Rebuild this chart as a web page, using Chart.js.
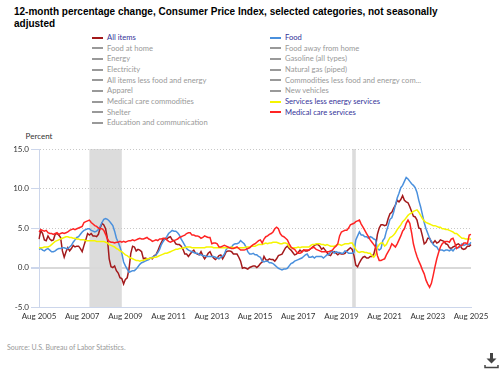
<!DOCTYPE html>
<html>
<head>
<meta charset="utf-8">
<script src="https://cdn.jsdelivr.net/npm/chart.js@4.4.1/dist/chart.umd.min.js"></script>
<style>
  html, body { margin: 0; padding: 0; background: #fff; }
  #wrap { position: relative; width: 500px; height: 371px; overflow: hidden; }
  #title {
    position: absolute; left: 14px; top: 6px; width: 440px;
    font: bold 10px "Liberation Sans", Arial, sans-serif; line-height: 11.7px; color: #000;
  }
  .lg { position: absolute; height: 11px; line-height: 11px; font: 7.6px Lato, sans-serif; white-space: nowrap; }
  .lg i { position: absolute; left: 0; top: 4.5px; width: 11px; height: 2px; }
  .lg span { position: absolute; left: 15px; }
  #percent { position: absolute; left: 19px; width: 40px; top: 131px; text-align: center; font: 8px Lato, sans-serif; color: #333; }
  #source { position: absolute; left: 7px; top: 342.5px; font: 7px Lato, sans-serif; color: #999; }
  #cv { position: absolute; left: 0; top: 140px; }
  #dl { position: absolute; left: 484px; top: 350px; }
</style>
</head>
<body>
<div id="wrap">
  <div id="title">12-month percentage change, Consumer Price Index, selected categories, not seasonally adjusted</div>
  <div id="legend"></div>
  <div id="percent">Percent</div>
  <canvas id="cv" width="500" height="186"></canvas>
  <div id="source">Source: U.S. Bureau of Labor Statistics.</div>
  <svg id="dl" width="15" height="19" viewBox="0 0 15 19">
    <rect x="6" y="3" width="3" height="6" fill="#444"/>
    <polygon points="2.5,8.5 12.5,8.5 7.5,13.5" fill="#444"/>
    <polyline points="1,15 1,17.5 14,17.5 14,15" fill="none" stroke="#444" stroke-width="1.5"/>
  </svg>
</div>
<script>
// ---- Data (12-month % change, Aug 2005 - Aug 2025) ----

const xTickLabels = ['Aug 2005','Aug 2007','Aug 2009','Aug 2011','Aug 2013','Aug 2015',
  'Aug 2017','Aug 2019','Aug 2021','Aug 2023','Aug 2025'];
const yTicks = [-5, 0, 5, 10, 15];

const allItems = [
  3.6, 4.7, 4.3, 3.5, 3.4,
  4.0, 3.6, 3.4, 3.5, 4.2, 4.3, 4.1, 3.8, 2.1, 1.3, 2.0, 2.5,
  2.1, 2.4, 2.8, 2.6, 2.7, 2.7, 2.4, 2.0, 2.8, 3.5, 4.3, 4.1,
  4.3, 4.0, 4.0, 3.9, 4.2, 5.0, 5.6, 5.4, 4.9, 3.7, 1.1, 0.1,
  0.0, 0.2, -0.4, -0.7, -1.3, -1.4, -2.1, -1.5, -1.3, -0.2, 1.8, 2.7,
  2.6, 2.1, 2.3, 2.2, 2.0, 1.1, 1.2, 1.1, 1.1, 1.2, 1.1, 1.5,
  1.6, 2.1, 2.7, 3.2, 3.6, 3.6, 3.6, 3.8, 3.9, 3.5, 3.4, 3.0,
  2.9, 2.9, 2.7, 2.3, 1.7, 1.7, 1.4, 1.7, 2.0, 2.2, 1.8, 1.7,
  1.6, 2.0, 1.5, 1.1, 1.4, 1.8, 2.0, 1.5, 1.2, 1.0, 1.2, 1.5,
  1.6, 1.1, 1.5, 2.0, 2.1, 2.1, 2.0, 1.7, 1.7, 1.7, 1.3, 0.8,
  -0.1, 0.0, -0.1, -0.2, 0.0, 0.1, 0.2, 0.2, 0.0, 0.2, 0.5, 0.7,
  1.4, 1.0, 0.9, 1.1, 1.0, 1.0, 0.8, 1.1, 1.5, 1.6, 1.7, 2.1,
  2.5, 2.7, 2.4, 2.2, 1.9, 1.6, 1.7, 1.9, 2.2, 2.0, 2.2, 2.1,
  2.1, 2.2, 2.4, 2.5, 2.8, 2.9, 2.9, 2.7, 2.3, 2.5, 2.2, 1.9,
  1.6, 1.5, 1.9, 2.0, 1.8, 1.6, 1.8, 1.7, 1.7, 1.8, 2.1, 2.3,
  2.5, 2.3, 1.5, 0.3, 0.1, 0.6, 1.0, 1.3, 1.4, 1.2, 1.2, 1.4,
  1.4, 1.7, 2.6, 4.2, 5.0, 5.4, 5.4, 5.3, 5.4, 6.2, 6.8, 7.0,
  7.5, 7.9, 8.5, 8.3, 8.6, 9.1, 8.5, 8.3, 8.2, 7.7, 7.1, 6.5,
  6.4, 6.0, 5.0, 4.9, 4.0, 3.0, 3.2, 3.7, 3.7, 3.2, 3.1, 3.4,
  3.1, 3.2, 3.5, 3.4, 3.3, 3.0, 2.9, 2.5, 2.4, 2.6, 2.7, 2.9,
  3.0, 2.8, 2.4, 2.3, 2.4, 2.7, 2.7, 2.9
];

const food = [
  2.3, 2.4, 2.2, 2.1, 2.3,
  2.4, 2.2, 2.0, 2.0, 2.1, 2.3, 2.4, 2.4, 2.5, 2.5, 2.4, 2.4,
  2.6, 2.8, 3.2, 3.5, 3.8, 3.9, 4.2, 4.5, 4.7, 4.8, 4.9, 4.9,
  4.7, 4.6, 4.5, 4.6, 4.8, 5.2, 5.7, 6.1, 6.2, 6.1, 5.9, 5.6,
  5.3, 4.6, 3.7, 3.2, 2.6, 1.8, 0.7, 0.2, -0.2, -0.6, -0.5, -0.4,
  -0.4, -0.2, 0.1, 0.4, 0.6, 0.7, 0.8, 0.9, 1.0, 1.2, 1.3, 1.4,
  1.6, 1.9, 2.3, 2.9, 3.3, 3.6, 3.9, 4.3, 4.5, 4.7, 4.6, 4.6,
  4.4, 4.1, 3.6, 3.2, 2.8, 2.4, 2.2, 2.1, 2.0, 1.9, 1.8, 1.8,
  1.6, 1.6, 1.5, 1.5, 1.4, 1.4, 1.4, 1.4, 1.4, 1.3, 1.2, 1.1,
  1.3, 1.4, 1.7, 2.3, 2.5, 2.5, 2.6, 2.9, 3.0, 3.0, 3.1, 3.4,
  3.2, 3.0, 2.6, 2.0, 1.7, 1.7, 1.8, 1.6, 1.6, 1.4, 1.3, 0.8,
  0.7, 0.8, 0.8, 0.6, 0.6, 0.5, 0.3, 0.1, -0.1, -0.2, -0.3, -0.2,
  -0.2, -0.1, 0.2, 0.5, 0.6, 0.8, 0.9, 1.0, 1.1, 1.2, 1.4, 1.6,
  1.7, 1.3, 1.3, 1.4, 1.2, 1.4, 1.4, 1.4, 1.4, 1.2, 1.4, 1.6,
  1.6, 2.0, 2.1, 1.8, 2.0, 1.9, 1.9, 1.8, 1.8, 2.1, 2.0, 1.8,
  1.8, 1.8, 1.9, 3.5, 4.0, 4.5, 4.1, 4.1, 3.9, 3.9, 3.7, 3.9,
  3.8, 3.6, 3.5, 2.4, 2.2, 2.4, 3.4, 3.7, 4.6, 5.3, 6.1, 6.3,
  7.0, 7.9, 8.8, 9.4, 10.1, 10.4, 10.9, 11.4, 11.2, 10.9, 10.6, 10.4,
  10.1, 9.5, 8.5, 7.7, 6.7, 5.7, 4.9, 4.3, 3.7, 3.3, 2.9, 2.7,
  2.6, 2.2, 2.2, 2.2, 2.1, 2.2, 2.2, 2.1, 2.3, 2.1, 2.4, 2.5,
  2.5, 2.6, 3.0, 2.8, 2.9, 3.0, 2.9, 3.2
];

const servicesLessEnergy = [
  2.5, 2.5, 2.5, 2.6, 2.6,
  2.6, 2.7, 2.9, 3.1, 3.3, 3.4, 3.5, 3.6, 3.7, 3.8, 3.9, 3.9,
  3.8, 3.8, 3.7, 3.7, 3.6, 3.6, 3.5, 3.5, 3.5, 3.4, 3.4, 3.4,
  3.4, 3.4, 3.4, 3.3, 3.3, 3.3, 3.3, 3.3, 3.2, 3.1, 2.9, 2.8,
  2.7, 2.6, 2.4, 2.3, 2.1, 2.0, 1.8, 1.6, 1.5, 1.3, 1.2, 1.1,
  1.0, 0.9, 0.9, 0.8, 0.9, 0.9, 1.0, 1.1, 1.1, 1.2, 1.2, 1.3,
  1.3, 1.4, 1.5, 1.6, 1.7, 1.8, 1.8, 1.9, 2.0, 2.1, 2.2, 2.3,
  2.3, 2.4, 2.4, 2.5, 2.5, 2.6, 2.6, 2.6, 2.5, 2.5, 2.5, 2.5,
  2.5, 2.5, 2.5, 2.5, 2.6, 2.6, 2.6, 2.6, 2.5, 2.5, 2.5, 2.5,
  2.5, 2.5, 2.5, 2.5, 2.5, 2.5, 2.6, 2.5, 2.5, 2.5, 2.5, 2.5,
  2.5, 2.5, 2.6, 2.6, 2.6, 2.7, 2.7, 2.7, 2.8, 2.9, 2.9, 2.9,
  3.0, 3.1, 3.0, 3.1, 3.1, 3.2, 3.2, 3.2, 3.1, 3.0, 3.0, 3.1,
  3.1, 3.0, 2.6, 2.5, 2.5, 2.5, 2.5, 2.6, 2.5, 2.6, 2.6, 2.6,
  2.6, 2.6, 2.8, 2.9, 2.9, 3.0, 3.0, 3.0, 2.9, 2.9, 2.8, 2.9,
  2.8, 2.7, 2.7, 2.7, 2.8, 2.9, 2.9, 2.8, 2.9, 3.0, 3.0, 3.0,
  3.1, 3.1, 2.7, 2.3, 2.0, 1.9, 2.0, 2.0, 1.9, 1.9, 1.8, 1.8,
  1.5, 1.3, 1.6, 2.5, 2.9, 3.1, 3.1, 2.7, 2.9, 3.4, 3.8, 3.9,
  4.1, 4.4, 4.8, 5.1, 5.4, 5.8, 6.0, 6.3, 6.6, 6.8, 6.9, 7.1,
  7.2, 7.3, 7.0, 6.6, 6.2, 5.9, 5.7, 5.6, 5.5, 5.4, 5.3, 5.3,
  5.2, 5.1, 5.1, 4.9, 4.9, 4.8, 4.8, 4.7, 4.6, 4.5, 4.3, 4.3,
  4.1, 3.9, 3.7, 3.7, 3.6, 3.6, 3.6, 3.6
];

const medicalCareServices = [
  4.5, 4.8, 4.7, 4.6, 4.7,
  4.4, 4.3, 4.3, 4.2, 4.3, 4.4, 4.2, 4.3, 4.4, 4.3, 4.4, 4.5,
  4.7, 4.8, 4.9, 4.8, 4.9, 5.0, 5.1, 5.2, 5.7, 5.8, 5.9, 6.0,
  5.7, 5.5, 5.3, 5.2, 5.0, 4.9, 4.9, 4.7, 4.2, 3.6, 3.3, 3.2,
  3.2, 3.1, 3.2, 3.2, 3.3, 3.2, 3.3, 3.2, 3.3, 3.4, 3.4, 3.5,
  3.4, 3.5, 3.6, 3.7, 3.6, 3.6, 3.7, 3.8, 3.6, 3.5, 3.3, 3.4,
  3.5, 3.4, 3.6, 3.6, 3.7, 3.7, 3.5, 3.3, 3.2, 3.3, 3.4, 3.5,
  3.6, 3.8, 3.9, 4.0, 4.1, 4.3, 4.4, 4.4, 4.1, 4.1, 4.0, 4.0,
  3.9, 3.7, 3.8, 4.0, 3.9, 3.8, 3.8, 3.0, 3.1, 3.1, 3.0, 2.6,
  2.6, 2.7, 2.8, 2.7, 2.6, 2.5, 2.4, 2.4, 2.5, 2.6, 2.4, 2.2,
  2.2, 2.2, 2.3, 2.4, 2.5, 2.7, 2.9, 3.0, 3.2, 3.4, 3.5, 3.1,
  3.6, 3.9, 4.0, 4.2, 4.3, 4.5, 4.9, 5.1, 4.9, 4.3, 4.0, 3.9,
  3.7, 3.5, 3.0, 2.6, 2.4, 2.3, 2.0, 1.8, 1.8, 1.9, 2.2, 2.2,
  2.2, 2.2, 2.4, 2.6, 2.5, 2.3, 2.2, 2.1, 2.0, 2.0, 2.0, 2.0,
  2.0, 2.1, 2.2, 2.5, 2.7, 3.0, 4.0, 4.5, 4.6, 4.7, 4.7, 5.0,
  5.4, 5.5, 5.6, 5.8, 5.9, 6.0, 5.5, 5.1, 4.7, 4.3, 3.9, 3.5,
  3.2, 2.9, 2.6, 1.5, 0.9, 0.9, 1.0, 1.1, 1.6, 2.0, 2.4, 3.0,
  2.8, 2.6, 3.0, 3.5, 4.0, 4.6, 4.9, 5.6, 6.0, 5.6, 4.4, 3.0,
  2.1, 1.4, 0.8, 0.3, -0.3, -0.8, -1.6, -2.1, -2.5, -2.0, -1.0, 0.1,
  1.1, 1.9, 2.6, 3.0, 3.2, 3.3, 3.3, 3.2, 3.6, 3.7, 3.1, 2.4,
  2.6, 2.8, 2.8, 3.1, 3.1, 3.0, 4.1, 4.2
];

// recession shading (start month, end month)
const recessions = [['Dec 2007', 'Jun 2009'], ['Feb 2020', 'Apr 2020']];

// legend entries, in the order the original legend lists them; only four are switched on
const legendNames = [
  'All items', 'Food', 'Food at home', 'Food away from home', 'Energy', 'Gasoline (all types)',
  'Electricity', 'Natural gas (piped)', 'All items less food and energy',
  'Commodities less food and energy com...', 'Apparel', 'New vehicles',
  'Medical care commodities', 'Services less energy services', 'Shelter',
  'Medical care services', 'Education and communication'
];
const seriesColors = {
  'All items': '#a3191b',
  'Food': '#4a90dd',
  'Services less energy services': '#f5f500',
  'Medical care services': '#ff2424'
};

// ---- Month categories ----

const monthNames = ['Jan','Feb','Mar','Apr','May','Jun','Jul','Aug','Sep','Oct','Nov','Dec'];
const months = [];
for (let y = 2005, m = 7; y < 2025 || m <= 7; m++) {
  if (m === 12) { m = 0; y++; }
  months.push(monthNames[m] + ' ' + y);
}

// ---- Legend ----

const legendEl = document.getElementById('legend');
legendNames.forEach((name, i) => {
  const col = i % 2, row = Math.floor(i / 2);
  const on = seriesColors[name];
  const item = document.createElement('div');
  item.className = 'lg';
  item.style.left = (col ? 270 : 92) + 'px';
  item.style.top = (32 + row * 10.67) + 'px';
  item.innerHTML = '<i style="background:' + (on || '#999') + '"></i><span style="color:' +
    (on ? '#333399' : '#999') + '">' + name + '</span>';
  legendEl.appendChild(item);
});

// ---- Chart ----

const recessionBands = {
  id: 'recessionBands',
  beforeDraw(chart) {
    const { ctx, chartArea, scales } = chart;
    ctx.save();
    ctx.fillStyle = '#dcdcdc';
    recessions.forEach(([a, b]) => {
      const x1 = scales.x.getPixelForValue(months.indexOf(a));
      const x2 = scales.x.getPixelForValue(months.indexOf(b));
      ctx.fillRect(x1, chartArea.top, x2 - x1, chartArea.bottom - chartArea.top);
    });
    ctx.restore();
  }
};

function line(label, data, order) {
  return {
    label, data, order,
    borderColor: seriesColors[label],
    borderWidth: 1.5,
    pointRadius: 0,
    tension: 0,
    fill: false
  };
}

function draw() {
  new Chart(document.getElementById('cv'), {
    type: 'line',
    data: {
      labels: months,
      datasets: [
        line('All items', allItems, 3),
        line('Food', food, 2),
        line('Services less energy services', servicesLessEnergy, 1),
        line('Medical care services', medicalCareServices, 0)
      ]
    },
    options: {
      responsive: false,
      animation: false,
      layout: { padding: { top: 9, right: 29, bottom: 2, left: 0 } },
      plugins: { legend: { display: false }, tooltip: { enabled: false } },
      scales: {
        x: {
          afterFit: s => { s.height = 17; },
          grid: { drawOnChartArea: false, drawTicks: false },
          border: { color: '#ccd6eb' },
          ticks: {
            autoSkip: false, maxRotation: 0, minRotation: 0, padding: 5,
            color: '#333', font: { family: 'Lato', size: 8 },
            callback: (v, i) => xTickLabels.includes(months[i]) ? months[i] : null
          }
        },
        y: {
          min: -5, max: 15,
          afterFit: s => { s.width = 39; },
          afterBuildTicks: s => { s.ticks = yTicks.map(v => ({ value: v })); },
          border: {
            color: '#ccd6eb',
            dash: c => (c.tick && c.tick.value > 0) ? [1, 2] : []
          },
          grid: {
            color: c => c.tick.value === 0 ? '#d9d9d9' : c.tick.value === -5 ? 'rgba(0,0,0,0)' : '#c8c8c8',
            lineWidth: c => c.tick.value === 0 ? 2 : 1,
            tickLength: 8,
            tickColor: '#ccd6eb'
          },
          ticks: {
            padding: 2,
            color: '#333', font: { family: 'Lato', size: 8 },
            callback: v => v.toFixed(1)
          }
        }
      }
    },
    plugins: [recessionBands]
  });
}

document.fonts.load('8px Lato').then(draw, draw);
</script>
</body>
</html>
